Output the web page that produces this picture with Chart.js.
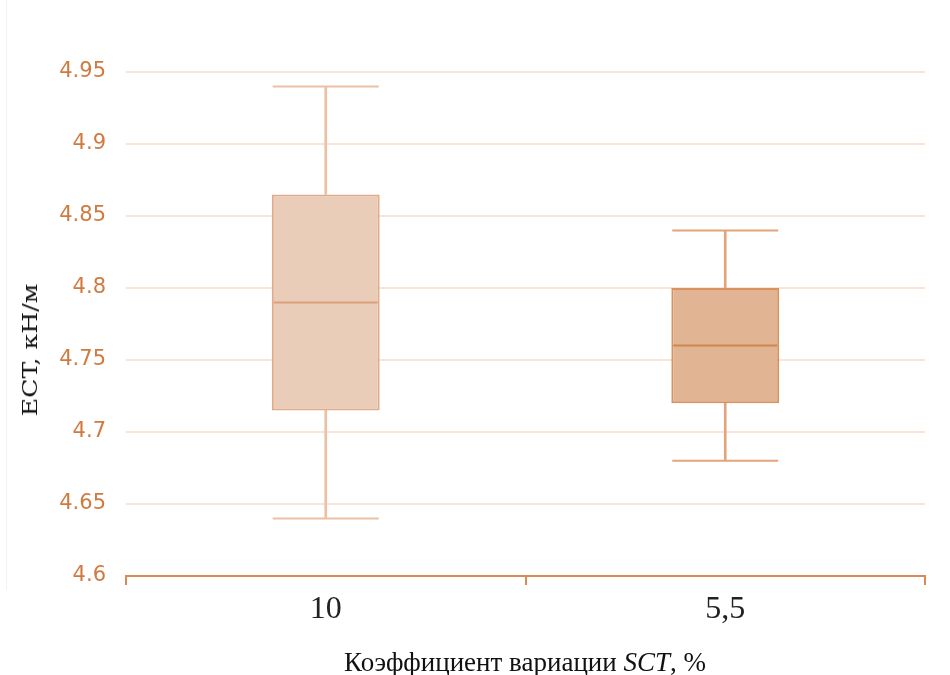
<!DOCTYPE html>
<html>
<head>
<meta charset="utf-8">
<script src="https://cdn.jsdelivr.net/npm/chart.js@4"></script>
<style>
    html, body { margin: 0; background: #fff; overflow: hidden; }
    #wrap { position: relative; width: 950px; height: 675px; overflow: hidden; }
    #edge { position: absolute; left: 6px; top: 0; width: 1px; height: 590px; background: #f1f1f1; }
    .axis-title { position: absolute; color: #111; white-space: nowrap; }
    #xTitle { left: 525px; top: 649px; font-family: "Liberation Serif", serif; font-size: 27px; line-height: 27px; transform: translateX(-50%); }
    #yTitle { left: 30px; top: 350px; font-family: "DejaVu Serif", serif; font-size: 20px; line-height: 20px; transform: translate(-50%, -50%) rotate(-90deg) scaleX(1.26); }
</style>
</head>
<body>
<div id="wrap">
    <div id="edge"></div>
    <canvas id="boxChart"></canvas>
    <div id="yTitle" class="axis-title">ECT, кН/м</div>
    <div id="xTitle" class="axis-title">Коэффициент вариации <i>SCT</i>, %</div>
</div>
<script>
// Box plot data
const categories = ['10', '5,5'];
const whiskerMin = [4.64, 4.68];
const q1 = [4.715, 4.72];
const median = [4.79, 4.76];
const q3 = [4.865, 4.80];
const whiskerMax = [4.94, 4.84];
const yTicks = [4.6, 4.65, 4.7, 4.75, 4.8, 4.85, 4.9, 4.95];

// Colours
const boxFill = ['rgba(233, 205, 184, 1)', 'rgba(225, 180, 148, 1)'];
const boxBorder = ['#e2aa86', '#d8925f'];
const whiskerColor = ['#ebc0a3', '#e2a47b'];
const medianColor = ['#dca07a', '#cf8750'];
const tickColor = '#d07a3f';
const axisColor = '#d98a55';
const gridColor = '#f7e5d9';

const capStyle = (values, colors) => ({
    type: 'line',
    data: values,
    showLine: false,
    pointStyle: 'line',
    pointRadius: 53,
    pointBorderWidth: 2,
    pointBorderColor: colors,
    order: 1
});

const whiskerStyle = (lo, hi) => ({
    type: 'bar',
    data: categories.map((c, i) => [lo[i], hi[i]]),
    backgroundColor: whiskerColor,
    borderWidth: 0,
    barThickness: 2,
    grouped: false,
    order: 3
});

new Chart(document.getElementById('boxChart'), {
    type: 'bar',
    data: {
        labels: categories,
        datasets: [
            {
                // the box itself, q1..q3
                data: categories.map((c, i) => [q1[i], q3[i]]),
                backgroundColor: boxFill,
                borderColor: boxBorder,
                borderWidth: 2,
                borderSkipped: false,
                barPercentage: 0.27,
                categoryPercentage: 1,
                grouped: false,
                order: 2
            },
            whiskerStyle(q3, whiskerMax),
            whiskerStyle(whiskerMin, q1),
            capStyle(whiskerMax, whiskerColor),
            capStyle(whiskerMin, whiskerColor),
            Object.assign(capStyle(median, medianColor), { order: 0, pointRadius: 52 })
        ]
    },
    options: {
        responsive: true,
        maintainAspectRatio: false,
        animation: false,
        events: [],
        layout: {
            autoPadding: false,
            padding: { top: 72, right: 25, left: 0, bottom: 0 }
        },
        plugins: {
            legend: { display: false },
            tooltip: { enabled: false }
        },
        scales: {
            x: {
                offset: true,
                grid: {
                    display: true,
                    drawOnChartArea: false,
                    offset: true,
                    tickLength: 9,
                    color: axisColor,
                    lineWidth: 2
                },
                border: { color: axisColor, width: 2 },
                ticks: {
                    color: '#222',
                    padding: 5,
                    font: { family: 'Liberation Serif', size: 32 }
                },
                afterFit: function(scale) {
                    scale.height = 99;
                }
            },
            y: {
                min: 4.6,
                max: 4.95,
                border: { display: false },
                grid: {
                    color: gridColor,
                    lineWidth: 2,
                    drawTicks: false
                },
                ticks: {
                    color: tickColor,
                    padding: 20,
                    font: { family: 'DejaVu Sans', size: 21 },
                    callback: function(value) {
                        return String(value);
                    }
                },
                afterBuildTicks: function(scale) {
                    scale.ticks = yTicks.map(v => ({ value: v }));
                },
                afterFit: function(scale) {
                    scale.width = 126;
                }
            }
        }
    }
});
</script>
</body>
</html>
